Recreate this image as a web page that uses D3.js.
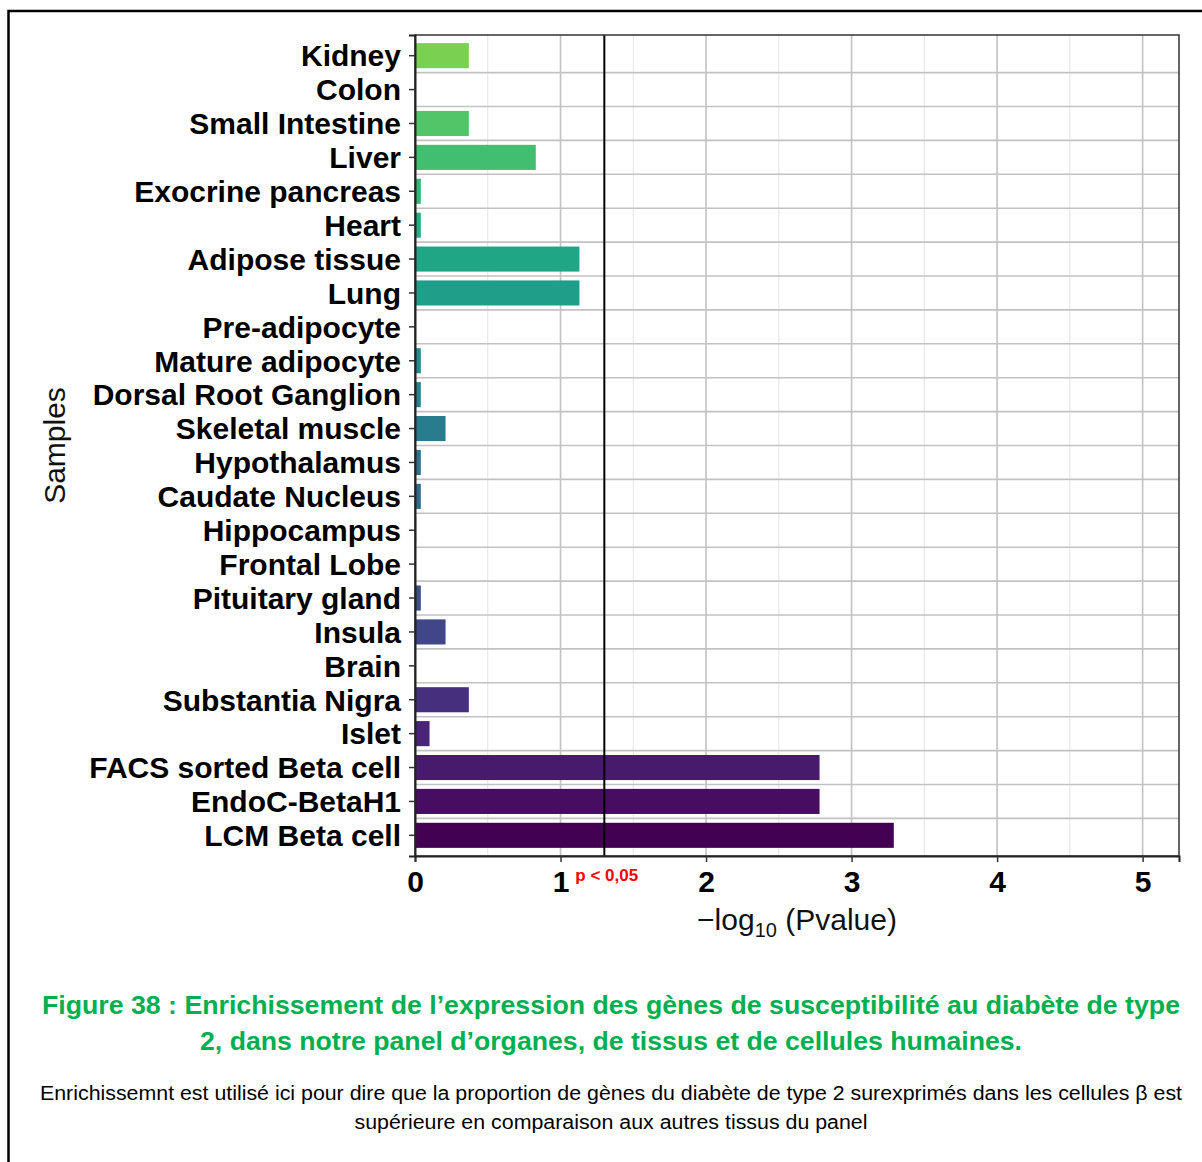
<!DOCTYPE html>
<html>
<head>
<meta charset="utf-8">
<script src="https://cdn.jsdelivr.net/npm/d3@7"></script>
<style>
  html, body { margin: 0; padding: 0; background: #fff; }
  svg { display: block; font-family: "Liberation Sans", Arial, sans-serif; }
</style>
</head>
<body>
<svg id="chart" width="1202" height="1162"></svg>
<script>
// Samples in display order (top to bottom)
const samples = [
  "Kidney", "Colon", "Small Intestine", "Liver", "Exocrine pancreas", "Heart",
  "Adipose tissue", "Lung", "Pre-adipocyte", "Mature adipocyte",
  "Dorsal Root Ganglion", "Skeletal muscle", "Hypothalamus", "Caudate Nucleus",
  "Hippocampus", "Frontal Lobe", "Pituitary gland", "Insula", "Brain",
  "Substantia Nigra", "Islet", "FACS sorted Beta cell", "EndoC-BetaH1", "LCM Beta cell"
];
// -log10(P value) for each sample
const negLogP = [
  0.37, 0, 0.37, 0.83, 0.04, 0.04,
  1.13, 1.13, 0, 0.04,
  0.04, 0.21, 0.04, 0.04,
  0.008, 0, 0.04, 0.21, 0,
  0.37, 0.1, 2.78, 2.78, 3.29
];
const xTicks = [0, 1, 2, 3, 4, 5];
const xMinorTicks = [0.5, 1.5, 2.5, 3.5, 4.5];
const pThreshold = 0.05;
const thresholdLabel = "p < 0,05";
const captionTitle = [
  "Figure 38 : Enrichissement de l\u2019expression des gènes de susceptibilité au diabète de type",
  "2, dans notre panel d\u2019organes, de tissus et de cellules humaines."
];
const captionTitleWidths = [1138, 822];
const captionNote = [
  "Enrichissemnt est utilisé ici pour dire que la proportion de gènes du diabète de type 2 surexprimés dans les cellules β est",
  "supérieure en comparaison aux autres tissus du panel"
];
const captionNoteWidths = [1142, 513];

const svg = d3.select("#chart");
const W = 1202, H = 1162;
svg.append("rect").attr("width", W).attr("height", H).attr("fill", "#fff");

// Page frame (left and top rules)
svg.append("path")
  .attr("d", `M8.5,${H} V11 H${W}`)
  .attr("fill", "none").attr("stroke", "#000").attr("stroke-width", 2.5);

const panel = { left: 415, right: 1179, top: 35, bottom: 856 };

const x = d3.scaleLinear().domain([0, 5.25]).range([panel.left, panel.right]);
const y = d3.scaleBand().domain(samples).range([panel.top, panel.bottom])
  .paddingInner(0.26).paddingOuter(0.24);
// viridis from dark purple (last row) up to green (first row)
const colorOf = (i) => d3.interpolateViridis(0.8 * (samples.length - 1 - i) / (samples.length - 1));

const g = svg.append("g");

// Minor vertical grid
g.selectAll("line.minor").data(xMinorTicks).join("line")
  .attr("class", "minor")
  .attr("x1", d => x(d)).attr("x2", d => x(d))
  .attr("y1", panel.top).attr("y2", panel.bottom)
  .attr("stroke", "#e4e4e4").attr("stroke-width", 1);

// Major vertical grid
g.selectAll("line.major").data(xTicks.slice(1)).join("line")
  .attr("class", "major")
  .attr("x1", d => x(d)).attr("x2", d => x(d))
  .attr("y1", panel.top).attr("y2", panel.bottom)
  .attr("stroke", "#c2c2c2").attr("stroke-width", 1.6);

// Horizontal grid between rows
const step = y.step();
g.selectAll("line.hgrid").data(samples.slice(0, -1)).join("line")
  .attr("class", "hgrid")
  .attr("x1", panel.left).attr("x2", panel.right)
  .attr("y1", d => y(d) + y.bandwidth() / 2 + step / 2)
  .attr("y2", d => y(d) + y.bandwidth() / 2 + step / 2)
  .attr("stroke", "#c2c2c2").attr("stroke-width", 1.6);

// Bars
g.selectAll("rect.bar").data(samples).join("rect")
  .attr("class", "bar")
  .attr("x", x(0))
  .attr("y", d => y(d))
  .attr("width", (d, i) => x(negLogP[i]) - x(0))
  .attr("height", y.bandwidth())
  .attr("fill", (d, i) => colorOf(i));

// Significance threshold
const thr = -Math.log10(pThreshold);
g.append("line")
  .attr("x1", x(thr)).attr("x2", x(thr))
  .attr("y1", panel.top).attr("y2", panel.bottom)
  .attr("stroke", "#000").attr("stroke-width", 2);

// Panel border
g.append("rect")
  .attr("x", panel.left).attr("y", panel.top)
  .attr("width", panel.right - panel.left).attr("height", panel.bottom - panel.top)
  .attr("fill", "none").attr("stroke", "#333").attr("stroke-width", 1.5);

// X axis
const xAxis = d3.axisBottom(x).tickValues(xTicks).tickSize(6).tickPadding(9).tickFormat(d3.format("d"));
const gx = svg.append("g").attr("transform", `translate(0,${panel.bottom})`).call(xAxis);
gx.select(".domain").attr("stroke", "#222").attr("stroke-width", 2);
gx.selectAll(".tick line").attr("stroke", "#333").attr("stroke-width", 1.5);
gx.selectAll(".tick text")
  .attr("font-family", "Liberation Sans, Arial, sans-serif")
  .attr("font-size", 30).attr("font-weight", "bold").attr("fill", "#000");

// Y axis
const yAxis = d3.axisLeft(y).tickSize(6).tickPadding(8);
const gy = svg.append("g").attr("transform", `translate(${panel.left},0)`).call(yAxis);
gy.select(".domain").attr("stroke", "#222").attr("stroke-width", 2);
gy.selectAll(".tick line").attr("stroke", "#333").attr("stroke-width", 1.5);
gy.selectAll(".tick text")
  .attr("font-family", "Liberation Sans, Arial, sans-serif")
  .attr("font-size", 30).attr("font-weight", "bold").attr("fill", "#000")
  .attr("dy", "0.36em");

// Threshold label
svg.append("text")
  .attr("x", x(thr) - 29).attr("y", 881)
  .attr("font-size", 17).attr("font-weight", "bold").attr("fill", "#ff0000")
  .text(thresholdLabel);

// Axis titles
const xt = svg.append("text")
  .attr("x", (panel.left + panel.right) / 2).attr("y", 930)
  .attr("text-anchor", "middle").attr("font-size", 30).attr("fill", "#111");
xt.append("tspan").text("\u2212log");
xt.append("tspan").attr("font-size", 20).attr("dy", 7).text("10");
xt.append("tspan").attr("dy", -7).text(" (Pvalue)");

svg.append("text")
  .attr("transform", `translate(65,${(panel.top + panel.bottom) / 2}) rotate(-90)`)
  .attr("text-anchor", "middle").attr("font-size", 30).attr("fill", "#111")
  .text("Samples");

// Caption
svg.selectAll("text.cap").data(captionTitle).join("text")
  .attr("class", "cap")
  .attr("x", 611).attr("y", (d, i) => 1014 + i * 36)
  .attr("text-anchor", "middle").attr("font-size", 25).attr("font-weight", "bold")
  .attr("fill", "#00b050")
  .attr("textLength", (d, i) => captionTitleWidths[i])
  .attr("lengthAdjust", "spacingAndGlyphs")
  .text(d => d);

svg.selectAll("text.note").data(captionNote).join("text")
  .attr("class", "note")
  .attr("x", 611).attr("y", (d, i) => 1100 + i * 29)
  .attr("text-anchor", "middle").attr("font-size", 20)
  .attr("fill", "#000")
  .attr("textLength", (d, i) => captionNoteWidths[i])
  .attr("lengthAdjust", "spacingAndGlyphs")
  .text(d => d);
</script>
</body>
</html>
